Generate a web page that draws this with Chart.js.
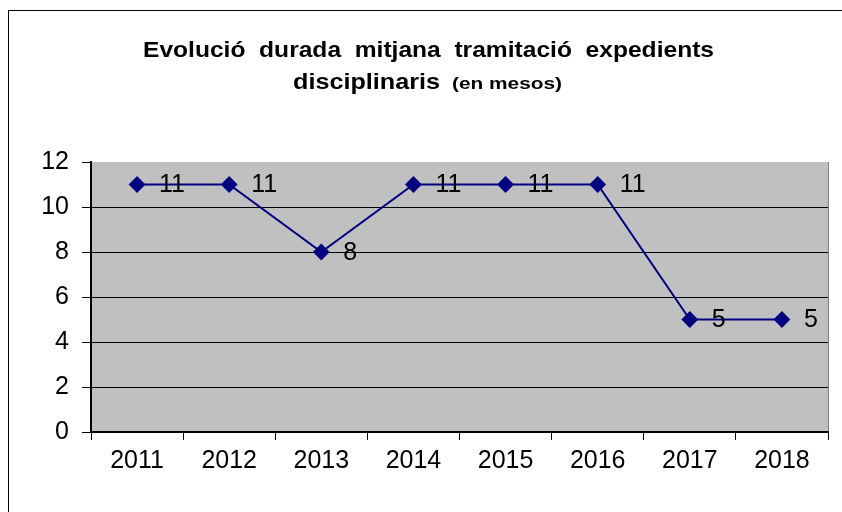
<!DOCTYPE html>
<html>
<head>
<meta charset="utf-8">
<script src="https://cdn.jsdelivr.net/npm/chart.js@4/dist/chart.umd.min.js"></script>
<style>
  html, body { margin: 0; padding: 0; background: #fff; }
  canvas { display: block; }
</style>
</head>
<body>
<canvas id="durChart" width="842" height="512"></canvas>
<script>
const years = ['2011', '2012', '2013', '2014', '2015', '2016', '2017', '2018'];
const months = [11, 11, 8, 11, 11, 11, 5, 5];
const yTicks = [0, 2, 4, 6, 8, 10, 12];

const FONT = "'Liberation Sans', Arial, sans-serif";

// draws a text stretched horizontally to a given width
function fitText(c, txt, x, y, w) {
  const m = c.measureText(txt).width;
  c.save();
  c.translate(x, y);
  c.scale(w / m, 1);
  c.fillText(txt, 0, 0);
  c.restore();
}

// frame, title, grey plot area and value labels
const decor = {
  id: 'decor',
  beforeDraw(chart) {
    const c = chart.ctx, a = chart.chartArea;
    c.save();
    c.fillStyle = '#fff';
    c.fillRect(0, 0, chart.width, chart.height);
    c.strokeStyle = '#000';
    c.lineWidth = 1;
    c.strokeRect(8.5, 10.5, 1000, 1000);
    c.fillStyle = '#c0c0c0';
    c.fillRect(a.left, a.top, a.right - a.left, a.bottom - a.top);
    c.strokeStyle = '#808080';
    c.beginPath();
    c.moveTo(a.right + 0.5, a.top);
    c.lineTo(a.right + 0.5, a.bottom);
    c.stroke();

    // title
    c.fillStyle = '#000';
    c.textBaseline = 'alphabetic';
    c.textAlign = 'left';
    c.font = 'bold 22px ' + FONT;
    fitText(c, 'Evolució  durada  mitjana  tramitació  expedients', 143, 57, 571);
    fitText(c, 'disciplinaris', 293, 89, 147);
    c.font = 'bold 16px ' + FONT;
    fitText(c, '(en mesos)', 452, 89, 110);
    c.restore();
  },
  afterDatasetsDraw(chart) {
    const c = chart.ctx;
    const meta = chart.getDatasetMeta(0);
    c.save();
    c.font = '25px ' + FONT;
    c.fillStyle = '#000';
    c.textAlign = 'left';
    c.textBaseline = 'middle';
    meta.data.forEach((pt, i) => {
      c.fillText(String(months[i]), pt.x + 22, pt.y + 1);
    });
    c.restore();
  }
};

new Chart(document.getElementById('durChart'), {
  type: 'line',
  data: {
    labels: years,
    datasets: [{
      data: months,
      borderColor: '#000080',
      backgroundColor: '#000080',
      borderWidth: 2,
      pointStyle: 'rectRot',
      pointRadius: 7,
      pointHoverRadius: 7,
      tension: 0
    }]
  },
  options: {
    responsive: false,
    animation: false,
    layout: { padding: { top: 162, right: 14, bottom: 0, left: 0 } },
    plugins: {
      legend: { display: false },
      title: { display: false },
      tooltip: { enabled: false }
    },
    scales: {
      x: {
        offset: true,
        afterFit(s) { s.height = 80; },
        grid: {
          offset: true,
          drawOnChartArea: false,
          color: '#000',
          tickLength: 8
        },
        border: { color: '#000', width: 2 },
        ticks: {
          color: '#000',
          padding: 6,
          maxRotation: 0,
          font: { family: FONT, size: 25 }
        }
      },
      y: {
        min: 0,
        max: 12,
        afterFit(s) { s.width = 91; },
        afterBuildTicks(s) { s.ticks = yTicks.map(v => ({ value: v })); },
        grid: {
          color: ctx => (ctx.tick && ctx.tick.value === 12) ? 'rgba(0,0,0,0)' : '#000',
          tickColor: '#000',
          tickLength: 9
        },
        border: { color: '#000', width: 2 },
        ticks: {
          color: '#000',
          padding: 13,
          font: { family: FONT, size: 25 }
        }
      }
    }
  },
  plugins: [decor]
});
</script>
</body>
</html>
